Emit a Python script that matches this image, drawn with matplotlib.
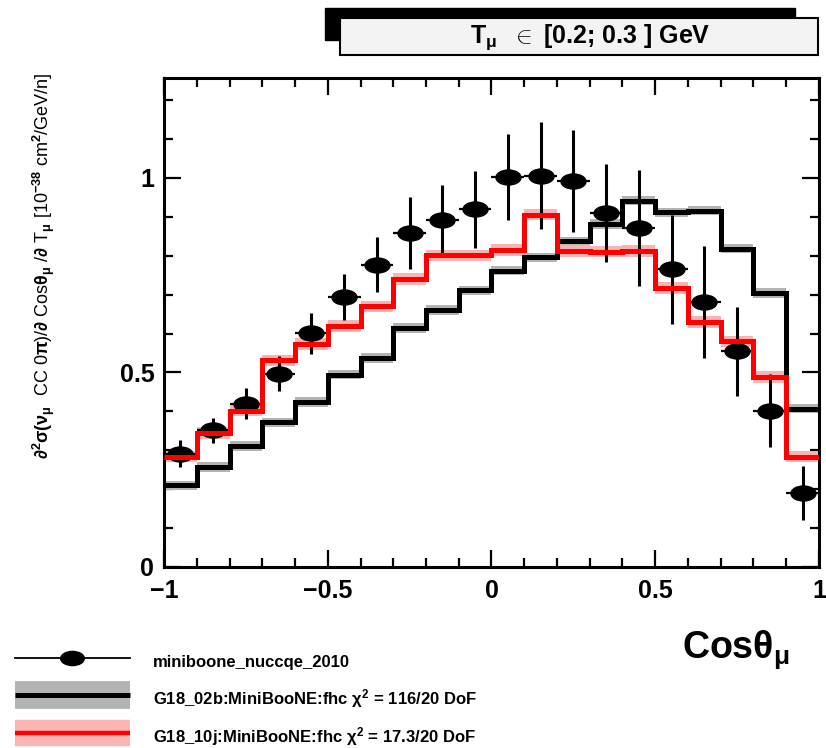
import matplotlib
matplotlib.use("Agg")
import matplotlib.pyplot as plt
import numpy as np
from matplotlib.path import Path
from matplotlib.patches import Rectangle
from matplotlib.lines import Line2D
from matplotlib.legend_handler import HandlerTuple
from matplotlib.ticker import MultipleLocator

plt.rcParams["font.family"] = ["Liberation Sans", "DejaVu Sans"]
plt.rcParams["mathtext.fontset"] = "custom"
plt.rcParams["mathtext.rm"] = "Liberation Sans:bold"
plt.rcParams["mathtext.it"] = "Liberation Sans:bold"
plt.rcParams["mathtext.bf"] = "Liberation Sans:bold"

# --- data ---
bin_edges = [-1.0, -0.9, -0.8, -0.7, -0.6, -0.5, -0.4, -0.3, -0.2, -0.1, 0.0,
             0.1, 0.2, 0.3, 0.4, 0.5, 0.6, 0.7, 0.8, 0.9, 1.0]

g18_02b = [0.210, 0.257, 0.311, 0.372, 0.424, 0.494, 0.537, 0.614, 0.661, 0.711,
           0.762, 0.796, 0.837, 0.882, 0.942, 0.912, 0.916, 0.818, 0.704, 0.407]
g18_02b_err = 0.012

g18_10j = [0.284, 0.344, 0.402, 0.531, 0.574, 0.619, 0.670, 0.741, 0.801, 0.801,
           0.815, 0.906, 0.813, 0.811, 0.813, 0.717, 0.629, 0.580, 0.488, 0.284]
g18_10j_err = 0.015

data_y = [0.291, 0.351, 0.420, 0.497, 0.601, 0.693, 0.777, 0.858, 0.892, 0.919,
          1.003, 1.006, 0.993, 0.910, 0.871, 0.765, 0.681, 0.554, 0.402, 0.190]
data_err = [0.035, 0.032, 0.040, 0.045, 0.053, 0.059, 0.070, 0.093, 0.090, 0.100,
            0.110, 0.137, 0.131, 0.126, 0.149, 0.141, 0.145, 0.115, 0.094, 0.070]

labels = ["miniboone_nuccqe_2010",
          r"G18_02b:MiniBooNE:fhc $\chi^{2}$ = 116/20 DoF",
          r"G18_10j:MiniBooNE:fhc $\chi^{2}$ = 17.3/20 DoF"]

edges = np.array(bin_edges)
centers = 0.5 * (edges[:-1] + edges[1:])
half_w = 0.5 * np.diff(edges)
b = np.array(g18_02b)
r = np.array(g18_10j)

# squashed circle, the reference is stretched sideways
uc = Path.unit_circle()
ell = Path(uc.vertices * [1.0, 0.6], uc.codes)

W, H = 826, 748
fig = plt.figure(figsize=(W / 100, H / 100), dpi=100, facecolor="white")
ax = fig.add_axes([164 / W, 1 - 567 / H, (819 - 164) / W, (567 - 78) / H])

# bands
ax.stairs(b + g18_02b_err, edges, baseline=b - g18_02b_err, fill=True,
          color="#b3b3b3", lw=0, zorder=2)
ax.stairs(r + g18_10j_err, edges, baseline=r - g18_10j_err, fill=True,
          color="#f9b3b3", lw=0, zorder=2)

# data
eb = ax.errorbar(centers, data_y, yerr=data_err, xerr=half_w, fmt="none",
                 ecolor="black", capsize=0, zorder=3)
eb[2][0].set_linewidth(1.6)
eb[2][1].set_linewidth(2.2)
ax.plot(centers, data_y, ls="none", marker=ell, ms=18, color="black", zorder=3)

# histograms
ax.stairs(b, edges, color="black", lw=3.6, baseline=None, zorder=4)
ax.stairs(r, edges, color="#ff0000", lw=3.6, baseline=None, zorder=5)

ax.set_xlim(-1, 1)
ax.set_ylim(0, 1.257)
ax.xaxis.set_minor_locator(MultipleLocator(0.1))
ax.yaxis.set_minor_locator(MultipleLocator(0.1))
ax.set_xticks([-1, -0.5, 0, 0.5, 1])
ax.set_xticklabels(["\u22121", "\u22120.5", "0", "0.5", "1"])
ax.set_yticks([0, 0.5, 1])
ax.set_yticklabels(["0", "0.5", "1"])
ax.tick_params(which="both", direction="in", top=True, right=True, width=1.6)
ax.tick_params(which="major", length=12, labelsize=18)
ax.tick_params(axis="x", which="major", pad=9)
ax.tick_params(axis="y", which="major", pad=7)
ax.tick_params(which="minor", length=6.5)
for t in ax.get_xticklabels() + ax.get_yticklabels():
    t.set_fontweight("bold")
for s in ax.spines.values():
    s.set_linewidth(2.2)

# title box
fig.patches.append(Rectangle((325 / W, 1 - 40 / H), 470 / W, 32 / H,
                             transform=fig.transFigure, fc="black", ec="black", zorder=1))
fig.patches.append(Rectangle((340 / W, 1 - 55 / H), 478 / W, 37 / H,
                             transform=fig.transFigure, fc="#f3f3f3", ec="black",
                             lw=1.5, zorder=2))
fig.text(590 / W, 1 - 37 / H, r"T$_{\mu}$  $\in$ [0.2; 0.3 ] GeV", ha="center",
         va="center", fontsize=18, fontweight="bold", zorder=3)

# axis titles
fig.text(44 / W, 1 - 266 / H,
         r"$\partial^{2}\sigma(\nu_{\mu}$  CC 0$\pi$)/$\partial$ Cos$\theta_{\mu}$ /$\partial$ T$_{\mu}$ [10$^{-38}$ cm$^{2}$/GeV/n]",
         rotation=90, ha="center", va="center", fontsize=13)
fig.text(682 / W, 1 - 658 / H, r"Cos$\theta_{\mu}$", ha="left", va="baseline",
         fontsize=27, fontweight="bold")

# legend (bands drawn as wide butt-capped lines so they stay centred)
h_data = Line2D([], [], color="black", lw=1.3, marker=ell, ms=17)
h_b = (Line2D([], [], color="#b3b3b3", lw=20, solid_capstyle="butt"),
       Line2D([], [], color="black", lw=3.6, solid_capstyle="butt"))
h_r = (Line2D([], [], color="#fbb5b5", lw=19, solid_capstyle="butt"),
       Line2D([], [], color="#ff0000", lw=3.2, solid_capstyle="butt"))
fs = 12
fpx = fs * 100 / 72
leg = fig.legend([h_data, h_b, h_r], labels, loc="upper left",
                 bbox_to_anchor=(15 / W, 1 - 648 / H), frameon=False,
                 prop={"weight": "bold", "size": fs},
                 handlelength=115 / fpx, handleheight=(28 / fpx - 0.245) / 0.65,
                 labelspacing=9.5 / fpx, handletextpad=23 / fpx, borderpad=0,
                 borderaxespad=0, numpoints=1,
                 handler_map={tuple: HandlerTuple(ndivide=1, pad=0)})

fig.savefig("out.png", dpi=100, facecolor="white")
